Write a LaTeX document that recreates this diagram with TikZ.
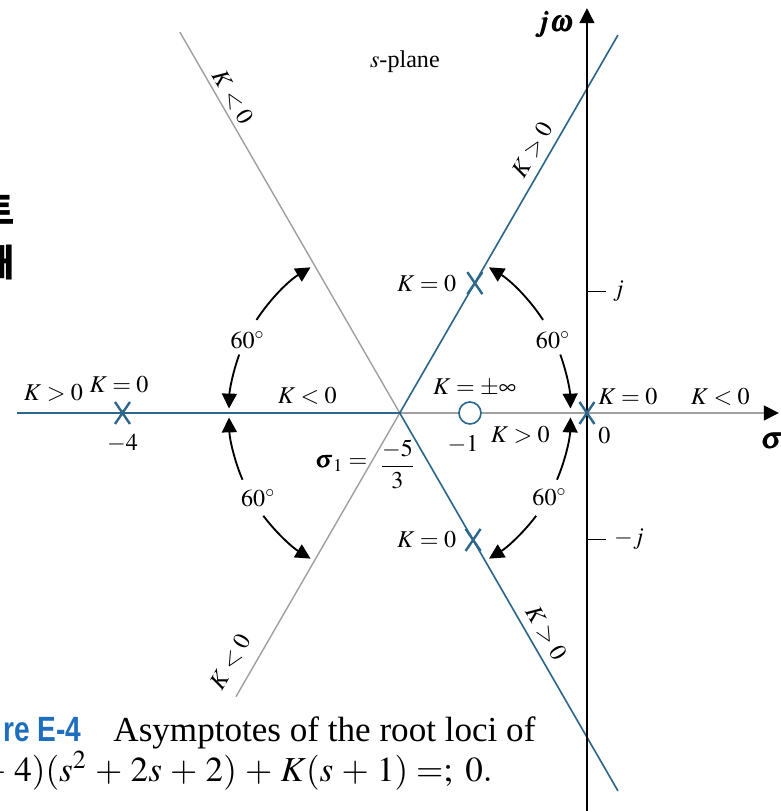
\documentclass[tikz,border=0pt]{standalone}
\usepackage{amsmath}
\usepackage{mathptmx}
\usepackage{bm}
\usepackage[no-math]{fontspec}
\setmainfont{Liberation Serif}
\newfontfamily\capfont[FakeStretch=0.8]{Liberation Sans}
\newfontfamily\krfont{Noto Sans CJK KR}
\usetikzlibrary{arrows.meta,positioning}
\definecolor{locusblue}{RGB}{45,104,140}
\definecolor{asymgray}{RGB}{160,160,160}
\definecolor{figblue}{RGB}{30,110,190}

\begin{document}
\begin{tikzpicture}[x=1.875cm,y=1.875cm,font=\fontsize{11}{13}\selectfont,
  asym/.style={locusblue,line width=0.75pt},
  neg/.style={asymgray,line width=0.65pt},
  tip/.style={-{Triangle[length=6.8pt,width=6.8pt,black]}},
  arc60/.style={line width=0.85pt,tip},
  pole/.style={locusblue,line width=1.1pt},
  axlbl/.style={font=\fontsize{13.5}{15}\selectfont},
  capt/.style={inner sep=0pt,font=\fontsize{16}{19}\selectfont}]
\useasboundingbox (-5.017,-3.402) rectangle (1.65,3.53);
\coordinate (V) at (-1.6,0);
\draw[neg] (V) -- +(120:3.76);
\draw[neg] (V) -- +(240:2.8);
\draw[neg,tip] (V) -- (1.64,0);
\draw[asym] (-4.87,0) -- (V);
\draw[asym] (V) -- +(60:3.73);
\draw[asym] (V) -- +(-60:3.73);
\draw[line width=0.7pt,tip] (0,-3.41) -- (0,3.46);
\draw[line width=0.7pt] (0,1.04) -- (0.16,1.04);
\draw[line width=0.7pt] (0,-1.08) -- (0.16,-1.08);
\draw[asym,fill=white] (-1,0) circle (0.094);
\foreach \x/\y in {-3.97/0,0/0,-0.958/1.11,-0.973/-1.085}
  \draw[pole] (\x,\y) +(-0.064,-0.094) -- +(0.064,0.094) (\x,\y) +(-0.064,0.094) -- +(0.064,-0.094);
\draw[arc60] ([shift={(33:1.46)}]V) arc[start angle=33,end angle=58.5,radius=1.46];
\draw[arc60] ([shift={(20:1.46)}]V) arc[start angle=20,end angle=1.5,radius=1.46];
\draw[arc60] ([shift={(147:1.46)}]V) arc[start angle=147,end angle=121.5,radius=1.46];
\draw[arc60] ([shift={(160:1.46)}]V) arc[start angle=160,end angle=178.5,radius=1.46];
\draw[arc60] ([shift={(203:1.46)}]V) arc[start angle=203,end angle=181.5,radius=1.46];
\draw[arc60] ([shift={(217:1.46)}]V) arc[start angle=217,end angle=238.5,radius=1.46];
\draw[arc60] ([shift={(337:1.46)}]V) arc[start angle=337,end angle=358.5,radius=1.46];
\draw[arc60] ([shift={(323:1.46)}]V) arc[start angle=323,end angle=301.5,radius=1.46];
\node[axlbl] (jw) at (-0.28,3.32) {$\bm{j\omega}$};
\node[axlbl] (sig) at (1.58,-0.24) {$\bm{\sigma}$};
\node (plane) at (-1.556,3.0) {$s$-plane};
\node[rotate=-60] (kn1) at (-3.03,2.70) {$K<0$};
\node[rotate=60] (kp1) at (-0.47,2.25) {$K>0$};
\node[rotate=60] (kn2) at (-3.05,-2.13) {$K<0$};
\node[rotate=-60] (kp2) at (-0.35,-1.88) {$K>0$};
\node (k0a) at (-1.37,1.11) {$K=0$};
\node (k0b) at (-1.37,-1.085) {$K=0$};
\node (kp3) at (-4.56,0.17) {$K>0$};
\node (k0c) at (-4.0,0.24) {$K=0$};
\node (m4) at (-3.97,-0.26) {$-4$};
\node (kn3) at (-2.39,0.15) {$K<0$};
\node (kinf) at (-0.96,0.22) {$K=\pm\infty$};
\node (m1) at (-1.06,-0.27) {$-1$};
\node (kp4) at (-0.57,-0.19) {$K>0$};
\node (k0d) at (0.35,0.14) {$K=0$};
\node (kn4) at (1.14,0.14) {$K<0$};
\node (zero) at (0.15,-0.19) {$0$};
\node (jp) at (0.27,1.04) {$j$};
\node (jm) at (0.36,-1.08) {$-j$};
\node (sig1) at (-2.10,-0.43) {$\bm{\sigma}_1 =$};
\node (frac) at (-1.62,-0.44) {$\dfrac{-5}{3}$};
\node (a1) at (-2.90,0.62) {$60^\circ$};
\node (a2) at (-0.29,0.62) {$60^\circ$};
\node (a3) at (-2.81,-0.73) {$60^\circ$};
\node (a4) at (-0.32,-0.72) {$60^\circ$};
\node[font=\krfont\bfseries\fontsize{17}{17}\selectfont] (kr1) at (-5.04,1.735) {트};
\node[font=\krfont\bfseries\fontsize{17}{17}\selectfont] (kr2) at (-5.04,1.29) {해};
\node[capt,anchor=base east,text=figblue,font=\capfont\bfseries\fontsize{16}{19}\selectfont] (figno) at (-4.316,-2.81) {re E-4};
\node[capt,anchor=base west] (cap1) at (-4.051,-2.81) {Asymptotes of the root loci of};
\node[capt,anchor=base east] (cap2) at (-0.803,-3.15) {\medmuskip=4.25mu $ {}+ 4)(s^2 + 2s + 2) + K(s + 1) =;\: 0.$};
\end{tikzpicture}
\end{document}
